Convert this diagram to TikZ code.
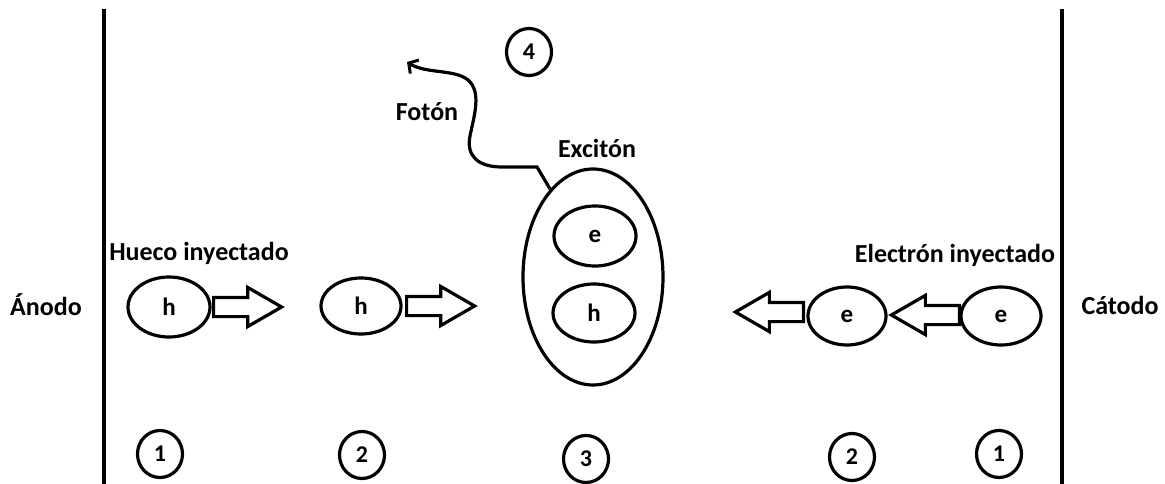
\documentclass[tikz,border=0pt]{standalone}
\usepackage{fontspec}
\setmainfont{Carlito}
\usetikzlibrary{shapes.geometric,shapes.arrows,arrows.meta}
\begin{document}
\begin{tikzpicture}[x=1pt,y=-1pt,
  lbl/.style={font=\fontsize{26}{30}\selectfont\bfseries, inner sep=0pt},
  carrier/.style={ellipse, draw, line width=3.2pt, inner sep=0pt,
    font=\fontsize{25}{30}\selectfont\bfseries},
  num/.style={ellipse, draw, line width=3.2pt, inner sep=0pt,
    minimum width=45pt, minimum height=47pt,
    font=\fontsize{24}{28}\selectfont\bfseries},
  blockarrow/.style={single arrow, draw, line width=3.2pt, inner xsep=0pt,
    inner ysep=8pt, minimum height=68pt, minimum width=36pt,
    single arrow head extend=10pt, single arrow tip angle=60},
  electrode/.style={line width=4pt},
  photon/.style={line width=3.2pt, -{Straight Barb[length=7pt,width=16pt,line width=3pt]}}]
\useasboundingbox (0,0) rectangle (1165,484);

% electrodes
\coordinate (aT) at (104,9);   \coordinate (aB) at (104,484);
\coordinate (cT) at (1062,9);  \coordinate (cB) at (1062,484);
\draw[electrode] (aT) -- (aB);
\draw[electrode] (cT) -- (cB);
\node[lbl] (anodo) at (46,305) {Ánodo};
\node[lbl] (catodo) at (1120,305) {Cátodo};

% injected hole and its drift
\node[lbl] (huecoL) at (199,253) {Hueco inyectado};
\node[carrier, minimum width=82pt, minimum height=60pt] (h1) at (169,307) {h};
\node[blockarrow, anchor=tail] (a1) at (212,307) {};
\node[carrier, minimum width=80pt, minimum height=56pt] (h2) at (361,306) {h};
\node[blockarrow, anchor=tail] (a2) at (405,306) {};

% exciton
\node[lbl] (excL) at (597,148) {Excitón};
\node[ellipse, draw, line width=3.2pt, minimum width=140pt, minimum height=216pt,
  inner sep=0pt] (X) at (593,277) {};
\node[carrier, minimum width=82pt, minimum height=60pt] (xe) at (595,236) {e};
\node[carrier, minimum width=82pt, minimum height=58pt] (xh) at (594,313) {h};

% emitted photon
\node[lbl] (fotonL) at (427,112) {Fotón};
\coordinate (ph) at (407,62);
\draw[photon] (X.116) -- (537,167) -- (502,167)
  .. controls (478,167) and (466,156) .. (470,136)
  .. controls (474,116) and (482,92) .. (468,80)
  .. controls (455,69) and (426,74) .. (ph);
\node[num] (n4) at (529,52) {4};

% injected electron and its drift
\node[lbl] (elecL) at (955,255) {Electrón inyectado};
\node[blockarrow, shape border rotate=180, anchor=tail] (a3) at (805,312) {};
\node[carrier, minimum width=78pt, minimum height=58pt] (e1) at (847,316) {e};
\node[blockarrow, shape border rotate=180, anchor=tail] (a4) at (961,315) {};
\node[carrier, minimum width=80pt, minimum height=58pt] (e2) at (1001,316) {e};

% stage numbers
\node[num] (nl1) at (160,454) {1};
\node[num] (nl2) at (362,455) {2};
\node[num] (n3)  at (586,459) {3};
\node[num] (nr2) at (852,457) {2};
\node[num] (nr1) at (999,454) {1};
\end{tikzpicture}
\end{document}
